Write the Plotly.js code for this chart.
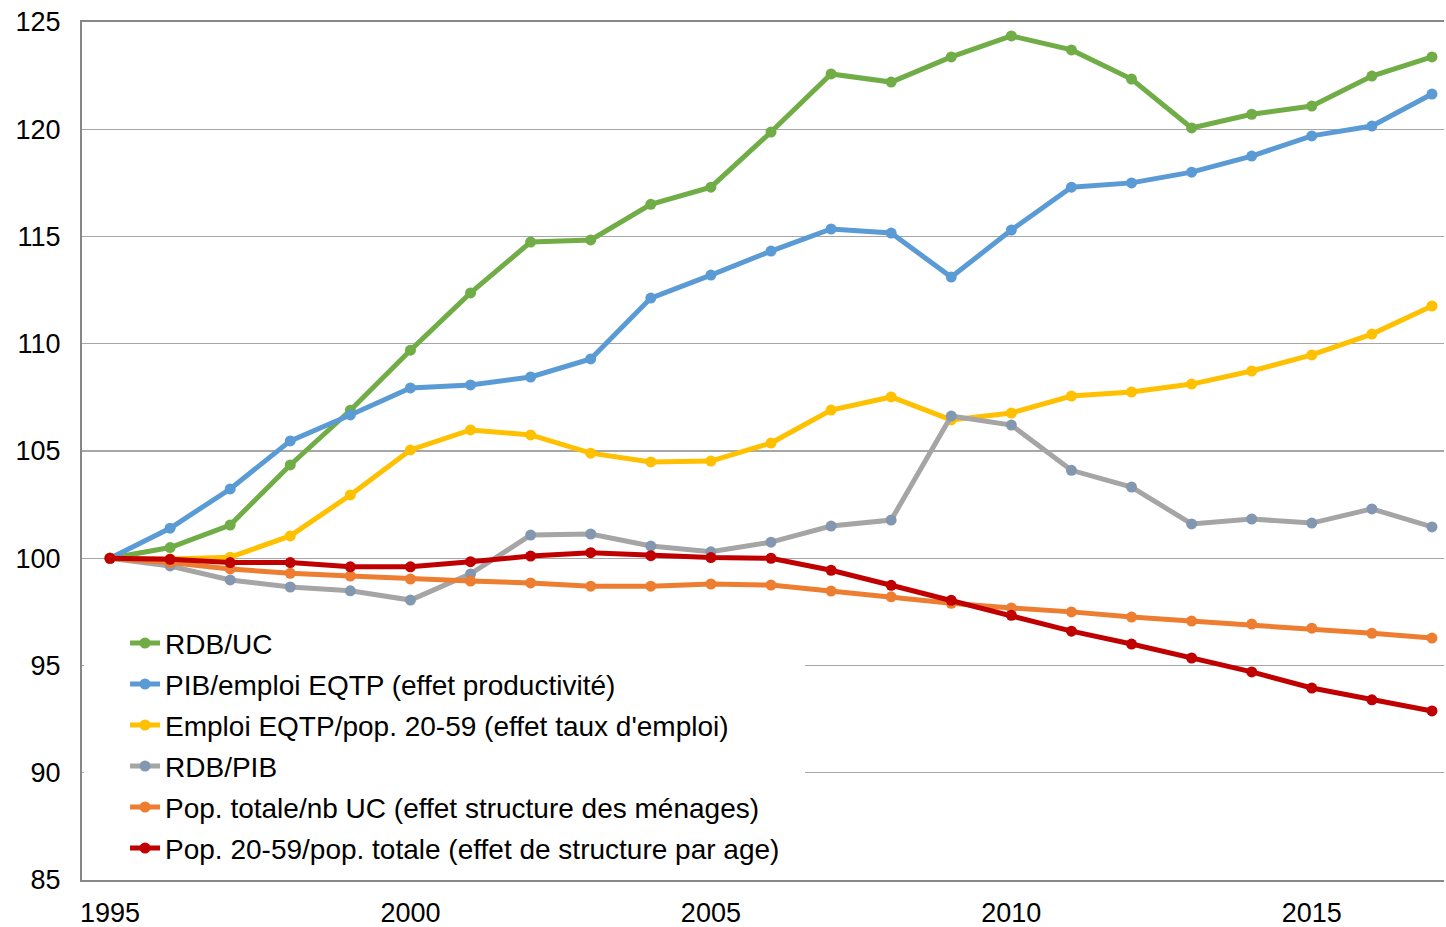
<!DOCTYPE html>
<html>
<head>
<meta charset="utf-8">
<script src="https://cdn.plot.ly/plotly-3.0.1.min.js"></script>
<style>html,body{margin:0;padding:0;background:#fff;}#chart{width:1446px;height:927px;}</style>
</head>
<body>
<div id="chart"></div>
<script>
const years = [1995,1996,1997,1998,1999,2000,2001,2002,2003,2004,2005,2006,2007,2008,2009,2010,2011,2012,2013,2014,2015,2016,2017];

const rdbUc = [100,100.5,101.55,104.35,106.9,109.7,112.37,114.74,114.84,116.5,117.3,119.87,122.58,122.2,123.37,124.35,123.7,122.34,120.06,120.7,121.08,122.48,123.37];
const pibEmploi = [100,101.4,103.23,105.47,106.68,107.94,108.08,108.45,109.29,112.13,113.2,114.32,115.35,115.16,113.11,115.3,117.3,117.5,118.0,118.75,119.69,120.15,121.64];
const emploiPop = [100,99.97,100.05,101.04,102.95,105.05,105.98,105.75,104.9,104.49,104.53,105.37,106.91,107.52,106.45,106.77,107.56,107.75,108.12,108.73,109.48,110.45,111.76];
const rdbPib = [100,99.64,98.99,98.66,98.48,98.05,99.27,101.08,101.13,100.57,100.3,100.75,101.5,101.78,106.63,106.21,104.1,103.32,101.6,101.83,101.64,102.3,101.46];
const popUc = [100,99.8,99.5,99.3,99.17,99.03,98.94,98.85,98.7,98.7,98.8,98.75,98.47,98.2,97.9,97.68,97.5,97.26,97.07,96.93,96.74,96.5,96.28];
const pop2059 = [100,99.95,99.8,99.8,99.6,99.6,99.84,100.1,100.26,100.12,100.03,100,99.44,98.74,98.04,97.34,96.6,96.0,95.35,94.7,93.95,93.4,92.88];

const seriesNames = [
  "RDB/UC",
  "PIB/emploi EQTP (effet productivité)",
  "Emploi EQTP/pop. 20-59 (effet taux d'emploi)",
  "RDB/PIB",
  "Pop. totale/nb UC (effet structure des ménages)",
  "Pop. 20-59/pop. totale (effet de structure par age)"
];
const yTicks = [85,90,95,100,105,110,115,120,125];
const xTicks = [1995,2000,2005,2010,2015];

const seriesData = [rdbUc, pibEmploi, emploiPop, rdbPib, popUc, pop2059];
const lineColors = ["#70ad47","#5b9bd5","#ffc000","#a5a5a5","#ed7d31","#c00000"];
const markerColors = ["#70ad47","#5b9bd5","#ffc000","#8497b0","#ed7d31","#c00000"];

const traces = seriesData.map((d,i)=>({
  x: years, y: d, name: seriesNames[i], type:'scatter', mode:'lines+markers',
  legendgroup: 'g'+i,
  line:{color:lineColors[i], width:5},
  marker:{color:markerColors[i], size:11}
}));

const layout = {
  width:1446, height:927,
  margin:{l:82, r:2, t:22, b:47},
  paper_bgcolor:'#fff', plot_bgcolor:'#fff',
  font:{family:'"Liberation Sans", Arial, sans-serif', size:27, color:'#000'},
  showlegend:true,
  legend:{x:0.0316, xanchor:'left', y:0.305, yanchor:'top', bgcolor:'rgba(255,255,255,0)',
    font:{size:28, color:'#000'}, tracegroupgap:1.6},
  xaxis:{range:[1994.534,2017.2], tickvals:xTicks, ticktext:xTicks.map(String),
    showgrid:false, zeroline:false, showline:true, mirror:true, linecolor:'#878787', linewidth:2,
    ticks:'', ticklabelstandoff:8, tickfont:{size:27}},
  yaxis:{range:[85,125], tickvals:yTicks, ticktext:yTicks.map(String),
    showgrid:true, gridcolor:'#a6a6a6', gridwidth:1.3, zeroline:false, showline:true,
    linecolor:'#878787', linewidth:2, ticks:'', ticklabelstandoff:14, tickfont:{size:27}},
  shapes:[{type:'rect', xref:'paper', yref:'paper', x0:0.0015, x1:(805-82)/1362, y0:(880-870)/858, y1:(880-615)/858,
    fillcolor:'#ffffff', line:{width:0}, layer:'above'}]
};

Plotly.newPlot('chart', traces, layout, {displayModeBar:false, staticPlot:true});
</script>
</body>
</html>
